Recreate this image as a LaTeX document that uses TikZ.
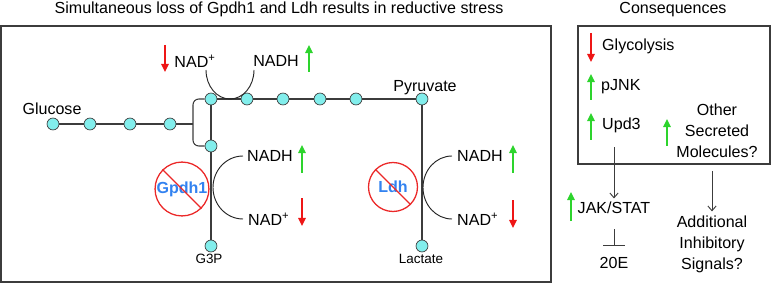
\documentclass[tikz,border=0pt]{standalone}
\usepackage{fontspec}
\setmainfont{Liberation Sans}
\usetikzlibrary{arrows.meta, positioning}

\definecolor{upgreen}{RGB}{45,212,45}
\definecolor{dnred}{RGB}{238,22,22}
\definecolor{metfill}{RGB}{130,238,236}
\definecolor{koblue}{RGB}{50,130,240}
\definecolor{kored}{RGB}{235,40,40}
\definecolor{linegray}{RGB}{60,60,60}

\begin{document}
\begin{tikzpicture}[x=0.03cm, y=-0.03cm, >=Stealth,
  font=\fontsize{13.7}{17.8}\selectfont,
  lab/.style={inner sep=0pt, text depth=0pt},
  met/.style={circle, draw=linegray, fill=metfill, line width=0.6pt,
              inner sep=0pt, minimum size=10.2pt},
  path/.style={draw=linegray, line width=0.9pt},
  redox/.style={draw=black!85, line width=0.8pt},
  box/.style={draw=linegray, line width=1.2pt},
  upA/.style={upgreen, line width=1.1pt, -{Triangle[width=6.5pt, length=7pt]}},
  dnA/.style={dnred, line width=1.1pt, -{Triangle[width=6.5pt, length=7pt]}},
  flow/.style={linegray, line width=0.8pt, -{Straight Barb[width=7pt, length=4pt]}},
  block/.style={linegray, line width=0.8pt, -{Bar[width=18.5pt]}},
  ko/.style={circle, draw=kored, line width=1.1pt, inner sep=0pt,
             text=koblue, font=\fontsize{13.7}{16}\selectfont\bfseries}]
  \path[use as bounding box] (0,0) rectangle (771,283);

  % Titles
  \node[lab] (title) at (279,8) {Simultaneous loss of Gpdh1 and Ldh results in reductive stress};
  \node[lab] (constitle) at (673,8) {Consequences};

  % Frames
  \draw[box] (1,26) rectangle (551,282);
  \draw[box] (578,26) rectangle (770,164);

  % Metabolites
  \node[met] (g1) at (53,124) {};
  \node[met] (g2) at (90,124) {};
  \node[met] (g3) at (130,124) {};
  \node[met] (g4) at (170,124) {};
  \node[met] (t1) at (211,99) {};
  \node[met] (t2) at (247,99) {};
  \node[met] (t3) at (283,99) {};
  \node[met] (t4) at (320,99) {};
  \node[met] (t5) at (356,99) {};
  \node[met] (pyr) at (422,99) {};
  \node[met] (dhap) at (211,146) {};
  \node[met] (g3p) at (211,246) {};
  \node[met] (lac) at (422,246) {};
  \coordinate (split) at (193,124);

  \node[lab] (glc) at (52,109) {Glucose};
  \node[lab] (pyrlab) at (425,86) {Pyruvate};
  \node[lab, font=\fontsize{11.5}{14}\selectfont] (g3plab) at (209,259) {G3P};
  \node[lab, font=\fontsize{11.5}{14}\selectfont] (laclab) at (421,259) {Lactate};

  % Pathway
  \draw[path] (g1) -- (g2) -- (g3) -- (g4) -- (split);
  \draw[path, rounded corners=5] (t1) -| (split) |- (dhap);
  \draw[path] (t1) -- (t2) -- (t3) -- (t4) -- (t5) -- (pyr);
  \draw[path] (t1) -- (dhap) -- (g3p);
  \draw[path] (pyr) -- (lac);

  % Glycolytic NAD+/NADH
  \node[lab] (nadA) at (195,61) {NAD\textsuperscript{+}};
  \node[lab] (nadhA) at (276,61) {NADH};
  \draw[redox] (206,70) arc[start angle=180, end angle=0, x radius=24, y radius=29];
  \draw[dnA] (165,45) -- (165,72);
  \draw[upA] (309,72) -- (309,45);

  % Gpdh1
  \node[ko, minimum size=46pt] (gpdh) at (182,189) {Gpdh1};
  \draw[kored, line width=1.1pt] (gpdh.north west) -- (gpdh.south east);
  \node[lab, anchor=west] (nadhB) at (247,156) {NADH};
  \node[lab, anchor=west] (nadB) at (248,219) {NAD\textsuperscript{+}};
  \draw[redox] (243,156) arc[start angle=270, end angle=90, x radius=30, y radius=31.5];
  \draw[upA] (302,173) -- (302,145);
  \draw[dnA] (302,198) -- (302,226);

  % Ldh
  \node[ko, minimum size=41.8pt] (ldh) at (393,187) {Ldh};
  \draw[kored, line width=1.1pt] (ldh.north west) -- (ldh.south east);
  \node[lab, anchor=west] (nadhC) at (457,156) {NADH};
  \node[lab, anchor=west] (nadC) at (457,219) {NAD\textsuperscript{+}};
  \draw[redox] (452,156) arc[start angle=270, end angle=90, x radius=29, y radius=31.5];
  \draw[upA] (513,173) -- (513,145);
  \draw[dnA] (513,200) -- (513,228);

  % Consequences
  \node[lab, anchor=west] (glyc) at (602,45) {Glycolysis};
  \node[lab, anchor=west] (jnk) at (601,85) {pJNK};
  \node[lab, anchor=west] (upd) at (602,124) {Upd3};
  \node[lab, align=center] (other) at (717,131) {Other\\Secreted\\Molecules?};
  \draw[dnA] (591,33) -- (591,62);
  \draw[upA] (591,100) -- (591,74);
  \draw[upA] (591,140) -- (591,113);
  \draw[upA] (667,146) -- (667,119);

  \node[lab] (jak) at (614,208) {JAK/STAT};
  \node[lab] (ecd) at (614,263) {20E};
  \node[lab, align=center] (addl) at (712,243) {Additional\\Inhibitory\\Signals?};
  \draw[upA] (571,221) -- (571,192);

  \draw[flow] ([yshift=-14.5pt]upd.south -| jak) -- ([yshift=3pt]jak.north);
  \draw[block] ([yshift=-13pt]jak.south) -- ([yshift=10pt]ecd.north);
  \draw[flow] ([yshift=-11pt]other.south -| addl) -- ([yshift=4pt]addl.north);
\end{tikzpicture}
\end{document}
